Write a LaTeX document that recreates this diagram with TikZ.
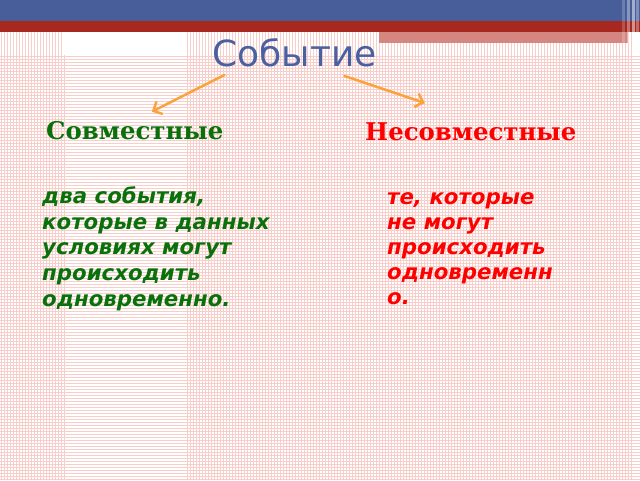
\documentclass[tikz,border=0pt]{standalone}
\usepackage{fontspec}
\setmainfont{DejaVu Sans}
\newfontfamily\serifhead{DejaVu Serif}
\usepackage{xcolor}
\usepackage{tikz}
\usetikzlibrary{arrows.meta}
\definecolor{barblue}{RGB}{72,94,155}
\definecolor{barred}{RGB}{166,40,30}
\definecolor{fadered}{RGB}{212,134,128}
\definecolor{gridpink}{RGB}{248,206,202}
\definecolor{titleblue}{RGB}{74,96,160}
\definecolor{jointgreen}{RGB}{10,112,10}
\definecolor{arroworange}{RGB}{250,162,60}

\begin{document}
\begin{tikzpicture}[x=1pt,y=-1pt,
    gridline/.style={draw=gridpink,line width=0.7pt},
    arr/.style={draw=arroworange,line width=2.5pt,-{Straight Barb[length=7pt,width=14pt]}},
    head/.style={anchor=base west,inner sep=0pt,font=\serifhead\bfseries\fontsize{24.4}{28}\selectfont},
    body/.style={anchor=base west,inner sep=0pt,align=left,font=\bfseries\itshape\fontsize{21.3}{25.6}\selectfont}]
    \useasboundingbox (0,0) rectangle (640,480);
    \fill[white] (0,0) rectangle (640,480);
    % paper grid
    \foreach \y in {56,59,...,479}
      \draw[gridline] (0,\y) -- (640,\y);
    \foreach \x in {1,4,...,64}
      \draw[gridline] (\x,32) -- (\x,480);
    \foreach \x in {187,190,...,631}
      \draw[gridline] (\x,32) -- (\x,480);
    % top bars
    \fill[barblue] (0,0) rectangle (640,21);
    \fill[barred] (0,21) rectangle (640,32);
    \fill[fadered] (379,32) rectangle (628,43);
    \fill[white] (64,32) rectangle (185,55);
    \foreach \x/\o in {622/0.2,627/0.35,632/0.5,636/0.3}
      \fill[white,opacity=\o] (\x,0) rectangle ++(2.5,43);
    % texts (multi-line nodes sit on their last baseline)
    \node[anchor=base west,inner sep=0pt,text=titleblue,font=\fontsize{36}{40}\selectfont] (title) at (212,66) {Событие};
    \node[head,text=jointgreen] (sovm) at (46,139) {Совместные};
    \node[head,text=red] (nesovm) at (365,140) {Несовместные};
    \node[body,text=jointgreen] (sovmtxt) at (42,306) {два события,\\которые в данных\\условиях могут\\происходить\\одновременно.};
    \node[body,text=red,font=\bfseries\itshape\fontsize{21.3}{25}\selectfont] (nesovmtxt) at (387,304) {те, которые\\не могут\\происходить\\одновременн\\о.};
    % arrows
    \draw[arr] ([shift={(13,8)}]title.south west) -- ([shift={(17,-9)}]sovm.north);
    \draw[arr] ([shift={(-33,9)}]title.south east) -- ([shift={(-46,-19)}]nesovm.north);
\end{tikzpicture}
\end{document}
